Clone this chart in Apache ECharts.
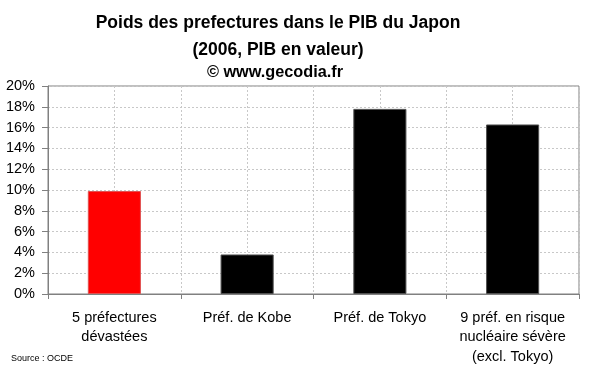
<!DOCTYPE html>
<html><head><meta charset="utf-8">
<script src="https://cdn.jsdelivr.net/npm/echarts@6/dist/echarts.min.js"></script>
<style>html,body{margin:0;padding:0;background:#fff}#c{width:600px;height:372px}</style>
</head><body><div id="c"></div>
<script>
var categories = ['5 préfectures\ndévastées', 'Préf. de Kobe', 'Préf. de Tokyo', '9 préf. en risque\nnucléaire sévère\n(excl. Tokyo)'];
var values = [9.9, 3.8, 17.8, 16.3];
var barColors = ['#ff0000', '#000000', '#000000', '#000000'];
var yTicks = [0, 2, 4, 6, 8, 10, 12, 14, 16, 18, 20];

var chart = echarts.init(document.getElementById('c'));
var F = '"Liberation Sans", Arial, sans-serif';
chart.setOption({
  animation: false,
  backgroundColor: '#fff',
  title: [
    {text: 'Poids des prefectures dans le PIB du Japon', left: 273, textAlign: 'center', top: 9,
     textStyle: {fontFamily: F, fontSize: 17.5, fontWeight: 'bold', color: '#000'}},
    {text: '(2006, PIB en valeur)', left: 273, textAlign: 'center', top: 36,
     textStyle: {fontFamily: F, fontSize: 17.5, fontWeight: 'bold', color: '#000'}},
    {text: '© www.gecodia.fr', left: 270, textAlign: 'center', top: 60,
     textStyle: {fontFamily: F, fontSize: 16.3, fontWeight: 'bold', color: '#000'}},
    {text: 'Source : OCDE', left: 6, top: 349,
     textStyle: {fontFamily: F, fontSize: 9, fontWeight: 'normal', color: '#000'}}
  ],
  grid: {left: 48, right: 21, top: 86, bottom: 78, show: true, borderColor: '#808080', borderWidth: 1},
  xAxis: [
    {type: 'category', data: categories,
     axisLine: {lineStyle: {color: '#808080'}},
     axisTick: {show: true, length: 5, lineStyle: {color: '#808080'}},
     axisLabel: {fontFamily: F, fontSize: 14.5, color: '#000', lineHeight: 19.5, margin: 14, interval: 0},
     splitLine: {show: false}},
    {type: 'value', min: 0, max: 8, interval: 1, position: 'top',
     axisLine: {show: false}, axisTick: {show: false}, axisLabel: {show: false},
     splitLine: {show: true, lineStyle: {color: '#c8c8c8', type: [2, 2]}}}
  ],
  yAxis: {type: 'value', min: 0, max: 20, interval: 2,
    axisLine: {show: true, lineStyle: {color: '#808080'}},
    axisTick: {show: true, length: 6, lineStyle: {color: '#808080'}},
    axisLabel: {fontFamily: F, fontSize: 14.5, color: '#000', margin: 13,
      formatter: function (v) { return yTicks.indexOf(v) >= 0 ? v + '%' : ''; }},
    splitLine: {show: true, lineStyle: {color: '#c8c8c8', type: [2, 2]}}},
  series: [{
    type: 'bar', xAxisIndex: 0, barWidth: '40%',
    data: values.map(function (v, i) {
      return {value: v, itemStyle: {color: barColors[i], borderColor: i === 0 ? '#e05050' : '#505050', borderWidth: 1}};
    })
  }]
});
</script></body></html>
